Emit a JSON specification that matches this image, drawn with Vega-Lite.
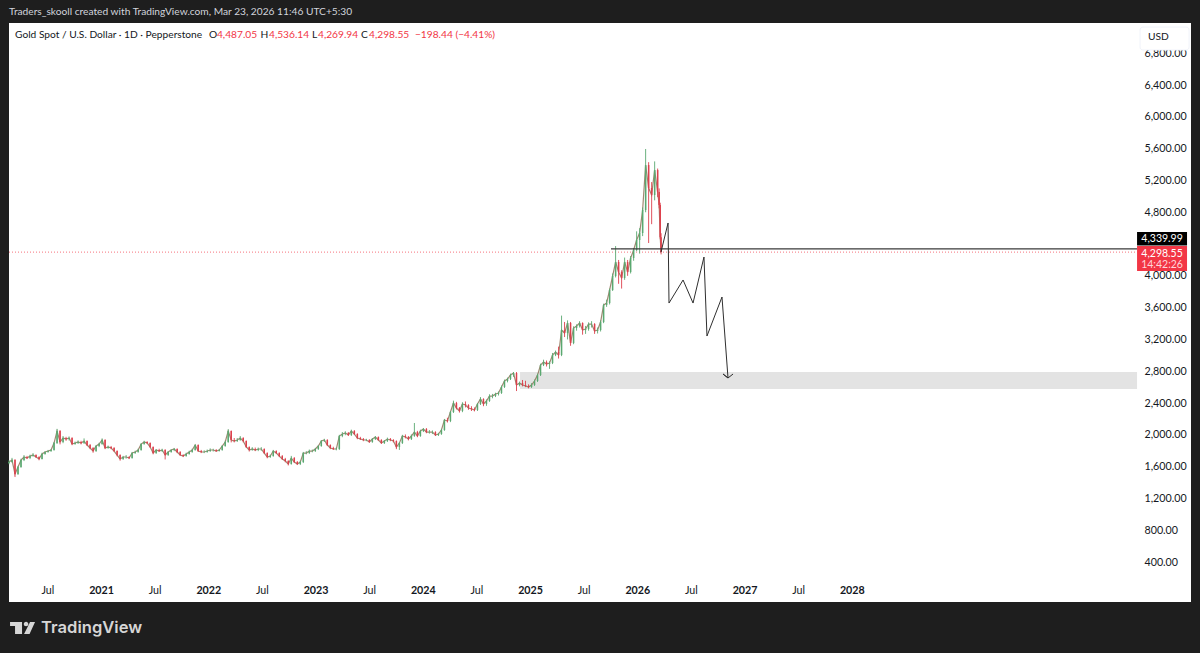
{
  "$schema": "https://vega.github.io/schema/vega-lite/v6.json",
  "width": 1182,
  "height": 579,
  "autosize": {"type": "none"},
  "padding": {"left": 9, "top": 23, "right": 9, "bottom": 51},
  "background": "#1e1e1e",
  "view": {"fill": "#ffffff", "stroke": null},
  "config": {"text": {"font": "Lato", "fontSize": 10.2}, "axis": {"labelFont": "Lato", "labelFontSize": 10.7, "labelColor": "#131722"}},
  "datasets": {
    "candles": [
      {"t":2020.142,"o":1645,"h":1680,"l":1630,"c":1658},{"t":2020.170,"o":1658,"h":1710,"l":1650,"c":1683},{"t":2020.198,"o":1683,"h":1695,"l":1469,"c":1507},{"t":2020.226,"o":1507,"h":1610,"l":1495,"c":1595},{"t":2020.254,"o":1595,"h":1700,"l":1585,"c":1683},{"t":2020.282,"o":1683,"h":1745,"l":1670,"c":1721},{"t":2020.310,"o":1721,"h":1735,"l":1695,"c":1708},{"t":2020.338,"o":1708,"h":1750,"l":1695,"c":1733},{"t":2020.366,"o":1733,"h":1770,"l":1725,"c":1746},{"t":2020.394,"o":1746,"h":1755,"l":1710,"c":1721},{"t":2020.422,"o":1721,"h":1730,"l":1680,"c":1696},{"t":2020.450,"o":1696,"h":1775,"l":1690,"c":1759},{"t":2020.478,"o":1759,"h":1795,"l":1750,"c":1784},{"t":2020.506,"o":1784,"h":1810,"l":1775,"c":1796},{"t":2020.534,"o":1796,"h":1820,"l":1785,"c":1809},{"t":2020.562,"o":1809,"h":1910,"l":1800,"c":1897},{"t":2020.590,"o":1897,"h":2075,"l":1885,"c":2048},{"t":2020.618,"o":2048,"h":2060,"l":1880,"c":1910},{"t":2020.646,"o":1910,"h":1985,"l":1895,"c":1960},{"t":2020.674,"o":1960,"h":1975,"l":1925,"c":1947},{"t":2020.702,"o":1947,"h":1980,"l":1930,"c":1960},{"t":2020.730,"o":1960,"h":1970,"l":1870,"c":1884},{"t":2020.758,"o":1884,"h":1915,"l":1875,"c":1897},{"t":2020.786,"o":1897,"h":1930,"l":1885,"c":1910},{"t":2020.814,"o":1910,"h":1925,"l":1880,"c":1897},{"t":2020.842,"o":1897,"h":1955,"l":1885,"c":1922},{"t":2020.870,"o":1922,"h":1930,"l":1860,"c":1872},{"t":2020.898,"o":1872,"h":1885,"l":1820,"c":1834},{"t":2020.926,"o":1834,"h":1845,"l":1775,"c":1796},{"t":2020.954,"o":1796,"h":1870,"l":1785,"c":1859},{"t":2020.982,"o":1859,"h":1900,"l":1845,"c":1884},
      {"t":2021.010,"o":1884,"h":1955,"l":1875,"c":1935},{"t":2021.038,"o":1935,"h":1945,"l":1820,"c":1834},{"t":2021.066,"o":1834,"h":1865,"l":1825,"c":1847},{"t":2021.094,"o":1847,"h":1860,"l":1820,"c":1834},{"t":2021.122,"o":1834,"h":1845,"l":1785,"c":1796},{"t":2021.150,"o":1796,"h":1805,"l":1730,"c":1746},{"t":2021.178,"o":1746,"h":1755,"l":1675,"c":1696},{"t":2021.206,"o":1696,"h":1735,"l":1685,"c":1721},{"t":2021.234,"o":1721,"h":1745,"l":1700,"c":1721},{"t":2021.262,"o":1721,"h":1730,"l":1695,"c":1708},{"t":2021.290,"o":1708,"h":1785,"l":1700,"c":1771},{"t":2021.318,"o":1771,"h":1800,"l":1760,"c":1784},{"t":2021.346,"o":1784,"h":1825,"l":1775,"c":1809},{"t":2021.374,"o":1809,"h":1895,"l":1800,"c":1884},{"t":2021.402,"o":1884,"h":1925,"l":1875,"c":1910},{"t":2021.430,"o":1910,"h":1920,"l":1885,"c":1897},{"t":2021.458,"o":1897,"h":1905,"l":1835,"c":1847},{"t":2021.486,"o":1847,"h":1855,"l":1755,"c":1771},{"t":2021.514,"o":1771,"h":1820,"l":1760,"c":1809},{"t":2021.542,"o":1809,"h":1825,"l":1785,"c":1796},{"t":2021.570,"o":1796,"h":1825,"l":1785,"c":1809},{"t":2021.598,"o":1809,"h":1820,"l":1690,"c":1746},{"t":2021.626,"o":1746,"h":1795,"l":1735,"c":1784},{"t":2021.654,"o":1784,"h":1820,"l":1775,"c":1809},{"t":2021.682,"o":1809,"h":1835,"l":1795,"c":1822},{"t":2021.710,"o":1822,"h":1830,"l":1770,"c":1784},{"t":2021.738,"o":1784,"h":1795,"l":1735,"c":1746},{"t":2021.766,"o":1746,"h":1755,"l":1720,"c":1733},{"t":2021.794,"o":1733,"h":1775,"l":1725,"c":1759},{"t":2021.822,"o":1759,"h":1800,"l":1750,"c":1784},{"t":2021.850,"o":1784,"h":1825,"l":1775,"c":1809},{"t":2021.878,"o":1809,"h":1880,"l":1800,"c":1872},{"t":2021.906,"o":1872,"h":1880,"l":1785,"c":1796},{"t":2021.934,"o":1796,"h":1810,"l":1770,"c":1784},{"t":2021.962,"o":1784,"h":1805,"l":1770,"c":1784},{"t":2021.990,"o":1784,"h":1815,"l":1775,"c":1796},
      {"t":2022.018,"o":1796,"h":1830,"l":1785,"c":1809},{"t":2022.046,"o":1809,"h":1825,"l":1790,"c":1809},{"t":2022.074,"o":1809,"h":1820,"l":1785,"c":1796},{"t":2022.102,"o":1796,"h":1820,"l":1790,"c":1809},{"t":2022.130,"o":1809,"h":1870,"l":1800,"c":1859},{"t":2022.158,"o":1859,"h":1925,"l":1850,"c":1910},{"t":2022.186,"o":1910,"h":2070,"l":1900,"c":2048},{"t":2022.214,"o":2048,"h":2055,"l":1905,"c":1935},{"t":2022.242,"o":1935,"h":1960,"l":1905,"c":1922},{"t":2022.270,"o":1922,"h":1960,"l":1910,"c":1935},{"t":2022.298,"o":1935,"h":1985,"l":1925,"c":1960},{"t":2022.326,"o":1960,"h":1970,"l":1905,"c":1922},{"t":2022.354,"o":1922,"h":1930,"l":1835,"c":1847},{"t":2022.382,"o":1847,"h":1855,"l":1790,"c":1809},{"t":2022.410,"o":1809,"h":1845,"l":1800,"c":1822},{"t":2022.438,"o":1822,"h":1840,"l":1795,"c":1809},{"t":2022.466,"o":1809,"h":1840,"l":1795,"c":1822},{"t":2022.494,"o":1822,"h":1845,"l":1800,"c":1822},{"t":2022.522,"o":1822,"h":1830,"l":1760,"c":1771},{"t":2022.550,"o":1771,"h":1780,"l":1705,"c":1721},{"t":2022.578,"o":1721,"h":1750,"l":1710,"c":1733},{"t":2022.606,"o":1733,"h":1810,"l":1725,"c":1796},{"t":2022.634,"o":1796,"h":1805,"l":1760,"c":1771},{"t":2022.662,"o":1771,"h":1780,"l":1720,"c":1733},{"t":2022.690,"o":1733,"h":1745,"l":1685,"c":1696},{"t":2022.718,"o":1696,"h":1710,"l":1655,"c":1671},{"t":2022.746,"o":1671,"h":1680,"l":1615,"c":1633},{"t":2022.774,"o":1633,"h":1735,"l":1625,"c":1708},{"t":2022.802,"o":1708,"h":1720,"l":1645,"c":1658},{"t":2022.830,"o":1658,"h":1670,"l":1620,"c":1633},{"t":2022.858,"o":1633,"h":1675,"l":1620,"c":1658},{"t":2022.886,"o":1658,"h":1785,"l":1645,"c":1771},{"t":2022.914,"o":1771,"h":1795,"l":1755,"c":1771},{"t":2022.942,"o":1771,"h":1815,"l":1760,"c":1796},{"t":2022.970,"o":1796,"h":1815,"l":1780,"c":1796},{"t":2022.998,"o":1796,"h":1835,"l":1785,"c":1822},
      {"t":2023.026,"o":1822,"h":1870,"l":1810,"c":1859},{"t":2023.054,"o":1859,"h":1935,"l":1850,"c":1922},{"t":2023.082,"o":1922,"h":1950,"l":1910,"c":1935},{"t":2023.110,"o":1935,"h":1945,"l":1860,"c":1872},{"t":2023.138,"o":1872,"h":1880,"l":1820,"c":1834},{"t":2023.166,"o":1834,"h":1850,"l":1810,"c":1822},{"t":2023.194,"o":1822,"h":1840,"l":1805,"c":1822},{"t":2023.222,"o":1822,"h":2000,"l":1810,"c":1985},{"t":2023.250,"o":1985,"h":2035,"l":1970,"c":2010},{"t":2023.278,"o":2010,"h":2045,"l":1995,"c":2023},{"t":2023.306,"o":2023,"h":2035,"l":1985,"c":1998},{"t":2023.334,"o":1998,"h":2065,"l":1985,"c":2048},{"t":2023.362,"o":2048,"h":2060,"l":2000,"c":2010},{"t":2023.390,"o":2010,"h":2020,"l":1945,"c":1960},{"t":2023.418,"o":1960,"h":1975,"l":1935,"c":1947},{"t":2023.446,"o":1947,"h":1960,"l":1920,"c":1935},{"t":2023.474,"o":1935,"h":1950,"l":1920,"c":1935},{"t":2023.502,"o":1935,"h":1945,"l":1900,"c":1910},{"t":2023.530,"o":1910,"h":1960,"l":1900,"c":1947},{"t":2023.558,"o":1947,"h":1985,"l":1935,"c":1973},{"t":2023.586,"o":1973,"h":1980,"l":1925,"c":1935},{"t":2023.614,"o":1935,"h":1945,"l":1885,"c":1897},{"t":2023.642,"o":1897,"h":1935,"l":1885,"c":1922},{"t":2023.670,"o":1922,"h":1965,"l":1910,"c":1947},{"t":2023.698,"o":1947,"h":1960,"l":1920,"c":1935},{"t":2023.726,"o":1935,"h":1945,"l":1905,"c":1922},{"t":2023.754,"o":1922,"h":1930,"l":1820,"c":1847},{"t":2023.782,"o":1847,"h":1910,"l":1810,"c":1897},{"t":2023.810,"o":1897,"h":2000,"l":1885,"c":1985},{"t":2023.838,"o":1985,"h":2005,"l":1955,"c":1973},{"t":2023.866,"o":1973,"h":1985,"l":1930,"c":1947},{"t":2023.894,"o":1947,"h":2005,"l":1935,"c":1985},{"t":2023.922,"o":1985,"h":2149,"l":1975,"c":2035},{"t":2023.950,"o":2035,"h":2050,"l":1970,"c":1985},{"t":2023.978,"o":1985,"h":2065,"l":1975,"c":2048},
      {"t":2024.006,"o":2048,"h":2085,"l":2035,"c":2073},{"t":2024.034,"o":2073,"h":2085,"l":2020,"c":2035},{"t":2024.062,"o":2035,"h":2060,"l":2015,"c":2035},{"t":2024.090,"o":2035,"h":2055,"l":2010,"c":2035},{"t":2024.118,"o":2035,"h":2045,"l":1985,"c":1998},{"t":2024.146,"o":1998,"h":2025,"l":1985,"c":2010},{"t":2024.174,"o":2010,"h":2075,"l":2000,"c":2061},{"t":2024.202,"o":2061,"h":2200,"l":2050,"c":2186},{"t":2024.230,"o":2186,"h":2215,"l":2155,"c":2174},{"t":2024.258,"o":2174,"h":2300,"l":2160,"c":2287},{"t":2024.286,"o":2287,"h":2430,"l":2275,"c":2400},{"t":2024.314,"o":2400,"h":2415,"l":2320,"c":2337},{"t":2024.342,"o":2337,"h":2350,"l":2280,"c":2300},{"t":2024.370,"o":2300,"h":2410,"l":2285,"c":2388},{"t":2024.398,"o":2388,"h":2420,"l":2345,"c":2375},{"t":2024.426,"o":2375,"h":2385,"l":2315,"c":2337},{"t":2024.454,"o":2337,"h":2360,"l":2300,"c":2325},{"t":2024.482,"o":2325,"h":2345,"l":2295,"c":2312},{"t":2024.510,"o":2312,"h":2400,"l":2300,"c":2388},{"t":2024.538,"o":2388,"h":2475,"l":2375,"c":2451},{"t":2024.566,"o":2451,"h":2460,"l":2360,"c":2388},{"t":2024.594,"o":2388,"h":2445,"l":2365,"c":2425},{"t":2024.622,"o":2425,"h":2510,"l":2415,"c":2488},{"t":2024.650,"o":2488,"h":2515,"l":2460,"c":2488},{"t":2024.678,"o":2488,"h":2530,"l":2475,"c":2513},{"t":2024.706,"o":2513,"h":2545,"l":2495,"c":2526},{"t":2024.734,"o":2526,"h":2620,"l":2515,"c":2602},{"t":2024.762,"o":2602,"h":2695,"l":2590,"c":2677},{"t":2024.790,"o":2677,"h":2720,"l":2660,"c":2702},{"t":2024.818,"o":2702,"h":2770,"l":2690,"c":2752},{"t":2024.846,"o":2752,"h":2790,"l":2730,"c":2778},{"t":2024.874,"o":2778,"h":2790,"l":2551,"c":2627},{"t":2024.902,"o":2627,"h":2670,"l":2610,"c":2652},{"t":2024.930,"o":2652,"h":2690,"l":2610,"c":2627},{"t":2024.958,"o":2627,"h":2680,"l":2600,"c":2614},{"t":2024.986,"o":2614,"h":2635,"l":2585,"c":2602},
      {"t":2025.014,"o":2602,"h":2650,"l":2590,"c":2627},{"t":2025.042,"o":2627,"h":2695,"l":2615,"c":2677},{"t":2025.070,"o":2677,"h":2770,"l":2665,"c":2752},{"t":2025.098,"o":2752,"h":2895,"l":2740,"c":2878},{"t":2025.126,"o":2878,"h":2945,"l":2865,"c":2916},{"t":2025.154,"o":2916,"h":2935,"l":2860,"c":2891},{"t":2025.182,"o":2891,"h":2925,"l":2830,"c":2903},{"t":2025.210,"o":2903,"h":3030,"l":2890,"c":3004},{"t":2025.238,"o":3004,"h":3060,"l":2990,"c":3042},{"t":2025.266,"o":3042,"h":3110,"l":2960,"c":3004},{"t":2025.294,"o":3004,"h":3500,"l":2990,"c":3319},{"t":2025.322,"o":3319,"h":3420,"l":3230,"c":3281},{"t":2025.350,"o":3281,"h":3440,"l":3200,"c":3407},{"t":2025.378,"o":3407,"h":3420,"l":3120,"c":3155},{"t":2025.406,"o":3155,"h":3365,"l":3140,"c":3344},{"t":2025.434,"o":3344,"h":3390,"l":3310,"c":3369},{"t":2025.462,"o":3369,"h":3430,"l":3350,"c":3407},{"t":2025.490,"o":3407,"h":3415,"l":3260,"c":3319},{"t":2025.518,"o":3319,"h":3370,"l":3270,"c":3331},{"t":2025.546,"o":3331,"h":3415,"l":3310,"c":3394},{"t":2025.574,"o":3394,"h":3430,"l":3350,"c":3394},{"t":2025.602,"o":3394,"h":3405,"l":3270,"c":3306},{"t":2025.630,"o":3306,"h":3350,"l":3275,"c":3319},{"t":2025.658,"o":3319,"h":3440,"l":3300,"c":3419},{"t":2025.686,"o":3419,"h":3650,"l":3405,"c":3633},{"t":2025.714,"o":3633,"h":3700,"l":3610,"c":3658},{"t":2025.742,"o":3658,"h":3840,"l":3640,"c":3822},{"t":2025.770,"o":3822,"h":4030,"l":3810,"c":3998},{"t":2025.798,"o":3998,"h":4375,"l":3980,"c":4174},{"t":2025.826,"o":4174,"h":4200,"l":3900,"c":4048},{"t":2025.854,"o":4048,"h":4070,"l":3840,"c":3973},{"t":2025.882,"o":3973,"h":4230,"l":3950,"c":4174},{"t":2025.910,"o":4174,"h":4200,"l":4000,"c":4048},{"t":2025.938,"o":4048,"h":4250,"l":4030,"c":4224},{"t":2025.966,"o":4224,"h":4350,"l":4190,"c":4325},{"t":2025.994,"o":4325,"h":4560,"l":4310,"c":4451},
      {"t":2026.022,"o":4451,"h":4600,"l":4280,"c":4539},{"t":2026.050,"o":4539,"h":4860,"l":4500,"c":4828},{"t":2026.078,"o":4828,"h":5596,"l":4800,"c":5394},{"t":2026.106,"o":5394,"h":5430,"l":4413,"c":5105},{"t":2026.134,"o":5105,"h":5180,"l":4650,"c":5017},{"t":2026.162,"o":5017,"h":5440,"l":4950,"c":5331},{"t":2026.190,"o":5331,"h":5350,"l":4990,"c":5055},{"t":2026.204,"o":5055,"h":5100,"l":4850,"c":4891},{"t":2026.214,"o":4891,"h":4920,"l":4460,"c":4487},{"t":2026.222,"o":4487.05,"h":4536.14,"l":4269.94,"c":4298.55}
    ],
    "path": [
      {"n":1,"t":2026.221,"p":4298},{"n":2,"t":2026.287,"p":4665},{"n":3,"t":2026.296,"p":3658},{"n":4,"t":2026.427,"p":3948},{"n":5,"t":2026.520,"p":3658},{"n":6,"t":2026.622,"p":4237},{"n":7,"t":2026.650,"p":3243},{"n":8,"t":2026.790,"p":3734},{"n":9,"t":2026.846,"p":2715},{"n":10,"t":2026.800,"p":2765},{"n":11,"t":2026.846,"p":2715},{"n":12,"t":2026.893,"p":2765}
    ]
  },
  "encoding": {
    "x": {
      "field": "t",
      "type": "quantitative",
      "title": null,
      "scale": {"domain": [2020.142, 2031.163], "nice": false, "zero": false},
      "axis": {
        "orient": "bottom",
        "offset": -22,
        "values": [2020.5, 2021, 2021.5, 2022, 2022.5, 2023, 2023.5, 2024, 2024.5, 2025, 2025.5, 2026, 2026.5, 2027, 2027.5, 2028],
        "labelExpr": "datum.value % 1 == 0 ? format(datum.value, 'd') : 'Jul'",
        "labelFontWeight": {"condition": {"test": "datum.value % 1 == 0", "value": "bold"}, "value": "normal"},
        "labelPadding": 5,
        "labelOverlap": false,
        "labelFlush": false,
        "domain": false,
        "ticks": false,
        "grid": false
      }
    },
    "y": {
      "field": "p",
      "type": "quantitative",
      "title": null,
      "scale": {"domain": [-103, 7181], "nice": false, "zero": false},
      "axis": {
        "orient": "right",
        "offset": -54,
        "values": [400, 800, 1200, 1600, 2000, 2400, 2800, 3200, 3600, 4000, 4800, 5200, 5600, 6000, 6400, 6800],
        "format": ",.2f",
        "labelPadding": 7,
        "labelOverlap": false,
        "labelFlush": false,
        "domain": false,
        "ticks": false,
        "grid": false
      }
    }
  },
  "layer": [
    {
      "data": {"values": [{"t": 2024.907, "t2": 2030.66, "p": 2790, "p2": 2576}]},
      "mark": {"type": "rect", "color": "#e3e3e3"},
      "encoding": {"x2": {"field": "t2"}, "y2": {"field": "p2"}}
    },
    {
      "data": {"values": [{"t": 2020.142, "t2": 2030.66, "p": 4298.55}]},
      "mark": {"type": "rule", "color": "#f23645", "strokeWidth": 0.7, "strokeDash": [1, 2]},
      "encoding": {"x2": {"field": "t2"}}
    },
    {
      "data": {"name": "candles"},
      "mark": {"type": "line", "color": "#8a6a4f", "strokeWidth": 1.2, "opacity": 0.8},
      "encoding": {"y": {"field": "c", "type": "quantitative", "title": null}}
    },
    {
      "data": {"name": "candles"},
      "mark": {"type": "rule", "strokeWidth": 0.9},
      "encoding": {
        "y": {"field": "l", "type": "quantitative", "title": null},
        "y2": {"field": "h"},
        "color": {"condition": {"test": "datum.c >= datum.o", "value": "#5aa870"}, "value": "#dd3f4c"}
      }
    },
    {
      "data": {"name": "candles"},
      "mark": {"type": "rule", "strokeWidth": 1.5},
      "encoding": {
        "y": {"field": "o", "type": "quantitative", "title": null},
        "y2": {"field": "c"},
        "color": {"condition": {"test": "datum.c >= datum.o", "value": "#5aa870"}, "value": "#dd3f4c"}
      }
    },
    {
      "data": {"values": [{"t": 2025.755, "t2": 2030.66, "p": 4339.99}]},
      "mark": {"type": "rule", "color": "#3a3a3a", "strokeWidth": 1.2},
      "encoding": {"x2": {"field": "t2"}}
    },
    {
      "data": {"name": "path"},
      "mark": {"type": "line", "color": "#2f2f2f", "strokeWidth": 1},
      "encoding": {"order": {"field": "n"}}
    },
    {
      "data": {"values": [{"t": 2030.688, "t2": 2031.145, "p": 7130, "p2": 6841}]},
      "mark": {"type": "rect", "fill": "#ffffff", "stroke": "#f0f3fa", "cornerRadius": 3},
      "encoding": {"x2": {"field": "t2"}, "y2": {"field": "p2"}}
    },
    {
      "data": {"values": [{"t": 2030.66, "t2": 2031.126, "p": 4551, "p2": 4382}]},
      "mark": {"type": "rect", "color": "#000000"},
      "encoding": {"x2": {"field": "t2"}, "y2": {"field": "p2"}}
    },
    {
      "data": {"values": [{"t": 2030.66, "t2": 2031.126, "p": 4375, "p2": 4061}]},
      "mark": {"type": "rect", "color": "#f23645"},
      "encoding": {"x2": {"field": "t2"}, "y2": {"field": "p2"}}
    },
    {
      "data": {"values": [{"t": 2030.893, "p": 4465, "label": "4,339.99"}, {"t": 2030.893, "p": 4280, "label": "4,298.55"}]},
      "mark": {"type": "text", "color": "#ffffff", "align": "center", "fontSize": 10.5},
      "encoding": {"text": {"field": "label"}}
    },
    {
      "data": {"values": [{"t": 2030.893, "p": 4140, "label": "14:42:26"}]},
      "mark": {"type": "text", "color": "#ffd5d9", "align": "center", "fontSize": 10.5},
      "encoding": {"text": {"field": "label"}}
    },
    {
      "data": {"values": [
        {"t": 2020.198, "p": 7030, "label": "Gold Spot / U.S. Dollar · 1D · Pepperstone"},
        {"t": 2022.007, "p": 7030, "label": "O"},
        {"t": 2022.487, "p": 7030, "label": "H"},
        {"t": 2022.968, "p": 7030, "label": "L"},
        {"t": 2023.425, "p": 7030, "label": "C"},
        {"t": 2030.762, "p": 7011, "label": "USD"}
      ]},
      "mark": {"type": "text", "color": "#131722", "align": "left"},
      "encoding": {"text": {"field": "label"}}
    },
    {
      "data": {"values": [
        {"t": 2022.081, "p": 7030, "label": "4,487.05"},
        {"t": 2022.566, "p": 7030, "label": "4,536.14"},
        {"t": 2023.023, "p": 7030, "label": "4,269.94"},
        {"t": 2023.499, "p": 7030, "label": "4,298.55"},
        {"t": 2023.927, "p": 7030, "label": "−198.44 (−4.41%)"}
      ]},
      "mark": {"type": "text", "color": "#f23645", "align": "left"},
      "encoding": {"text": {"field": "label"}}
    },
    {
      "data": {"values": [{"t": 2020.142, "p": 7319, "label": "Traders_skooll created with TradingView.com, Mar 23, 2026 11:46 UTC+5:30"}]},
      "mark": {"type": "text", "color": "#d1d4dc", "align": "left"},
      "encoding": {"text": {"field": "label"}}
    },
    {
      "data": {"values": [{"t": 2020.273, "p": -430}]},
      "mark": {
        "type": "point",
        "filled": true,
        "opacity": 1,
        "size": 4,
        "color": "#d6d6d6",
        "shape": "M-13,-6 H-1 V6 H-8 V-2 H-13 Z M0.7,-4 A2.3,2.3 0 1 1 5.3,-4 A2.3,2.3 0 1 1 0.7,-4 Z M7,-6 H12 L6.5,6 H1 Z"
      }
    },
    {
      "data": {"values": [{"t": 2020.441, "p": -430, "label": "TradingView"}]},
      "mark": {"type": "text", "color": "#d6d6d6", "align": "left", "font": "Inter", "fontSize": 16.6, "fontWeight": 600},
      "encoding": {"text": {"field": "label"}}
    }
  ]
}
